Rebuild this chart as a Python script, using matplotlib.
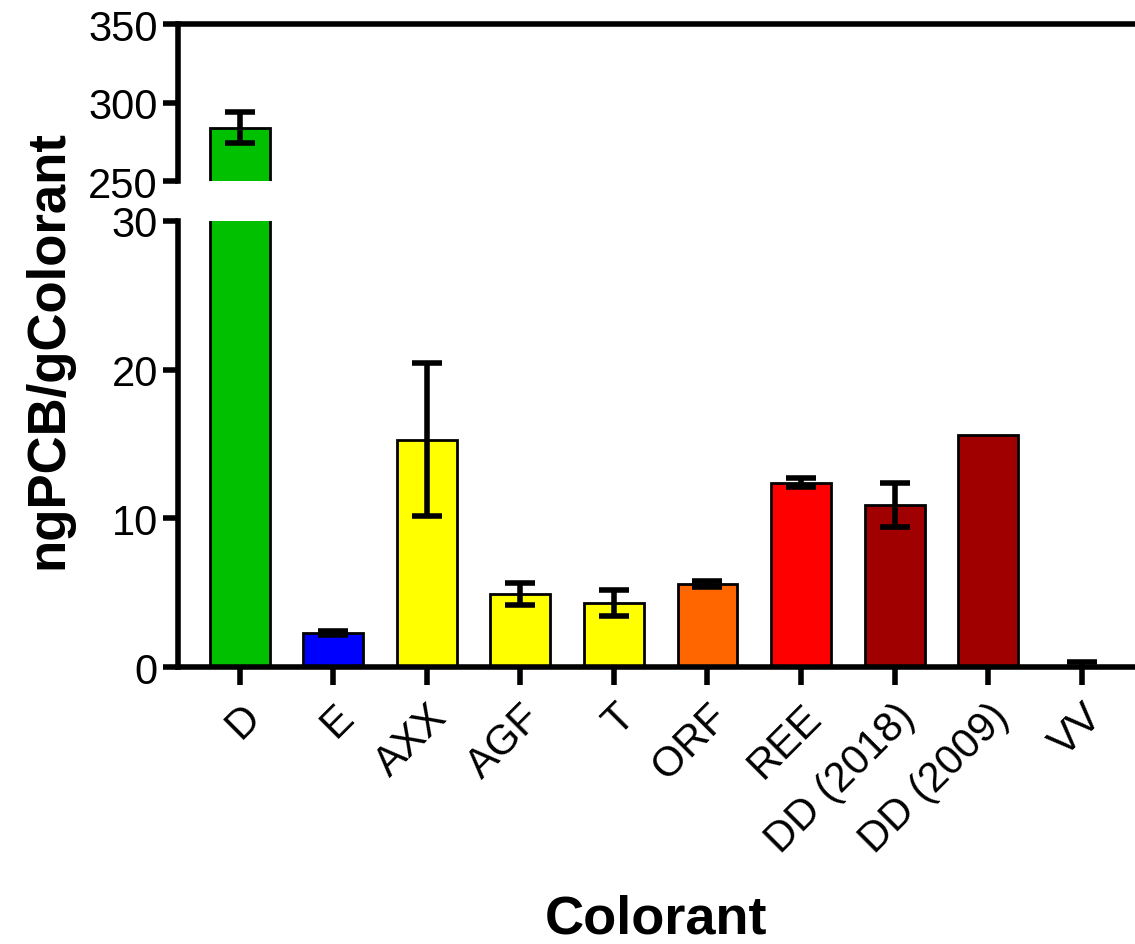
import matplotlib.pyplot as plt
import numpy as np

plt.rcParams['font.family'] = ['Liberation Sans', 'DejaVu Sans']

# dữ liệu
categories = ['D', 'E', 'AXX', 'AGF', 'T', 'ORF', 'REE', 'DD (2018)', 'DD (2009)', 'VV']
values = [284, 2.3, 15.3, 4.9, 4.3, 5.6, 12.4, 10.9, 15.6, 0.1]
errors = [10, 0.15, 5.15, 0.75, 0.85, 0.2, 0.3, 1.5, 0, 0.25]
colors = ['#00C000', '#0000FF', '#FFFF00', '#FFFF00', '#FFFF00', '#FF6600',
          '#FF0000', '#A00000', '#A00000', '#A00000']

fig = plt.figure(figsize=(11.35, 9.45), dpi=100)
ax_top = fig.add_axes([0.1568, 0.8074, 0.8432, 0.1661])
ax_bot = fig.add_axes([0.1568, 0.2931, 0.8432, 0.4720])

x = np.arange(len(categories))
vals = np.array(values)
errs = np.array(errors)
has_err = errs > 0

for ax in (ax_top, ax_bot):
    ax.bar(x, vals, width=0.64, color=colors, edgecolor='black', linewidth=2)
    ax.errorbar(x[has_err], vals[has_err], yerr=errs[has_err], fmt='none',
                ecolor='black', elinewidth=4, capsize=11, capthick=4)
    ax.set_xlim(-0.66, 9.57)
    ax.tick_params(axis='both', labelsize=30, width=4, length=11, direction='out')
    for s in ax.spines.values():
        s.set_linewidth(4)
    ax.spines['right'].set_visible(False)

# phần trên của trục bị ngắt
ax_top.set_ylim(250, 350)
ax_top.set_yticks([250, 300, 350])
ax_top.set_yticks([250], minor=True)
ax_top.tick_params(axis='y', which='minor', direction='inout', length=27, width=4)
ax_top.spines['bottom'].set_visible(False)
ax_top.set_xticks([])

# phần dưới
ax_bot.set_ylim(0, 30)
ax_bot.set_yticks([0, 10, 20, 30])
ax_bot.set_yticks([30], minor=True)
ax_bot.tick_params(axis='y', which='minor', direction='inout', length=27, width=4)
ax_bot.spines['top'].set_visible(False)
ax_bot.set_xticks(x)
ax_bot.set_xticklabels(categories, rotation=45, ha='right', rotation_mode='anchor')
ax_bot.tick_params(axis='x', length=13, pad=8)

ax_bot.set_xlabel('Colorant', fontsize=39, fontweight='bold', labelpad=24)
fig.text(0.043, 0.63, 'ngPCB/gColorant', rotation=90, fontsize=38, fontweight='bold',
         ha='center', va='center')

plt.savefig('out.png', dpi=100)
